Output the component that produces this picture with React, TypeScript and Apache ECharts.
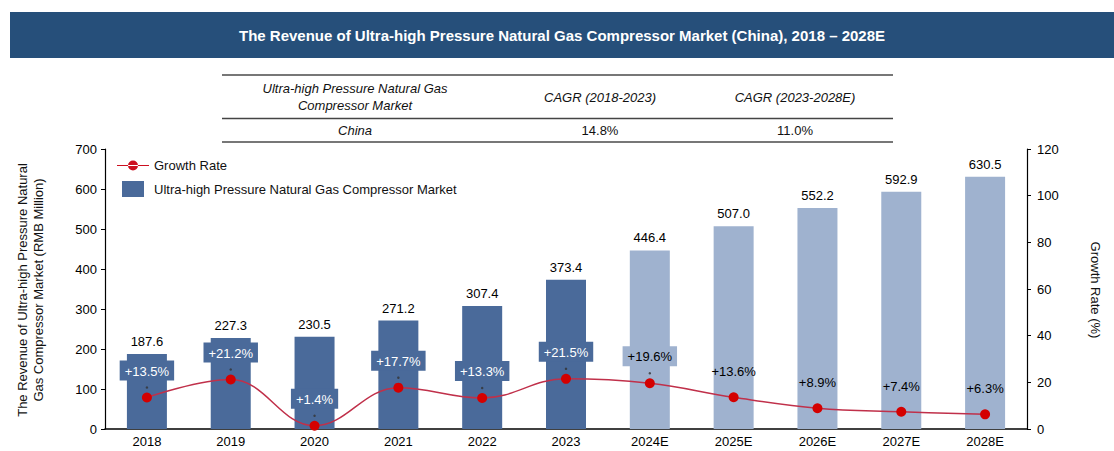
import React, { useEffect, useRef } from "react";
import * as echarts from "echarts";

const years = ["2018", "2019", "2020", "2021", "2022", "2023", "2024E", "2025E", "2026E", "2027E", "2028E"];
const revenue = [187.6, 227.3, 230.5, 271.2, 307.4, 373.4, 446.4, 507.0, 552.2, 592.9, 630.5];
const growth = [13.5, 21.2, 1.4, 17.7, 13.3, 21.5, 19.6, 13.6, 8.9, 7.4, 6.3];
const forecastStart = 6;
const leftTicks = { min: 0, max: 700, interval: 100 };
const rightTicks = { min: 0, max: 120, interval: 20 };
const tableHeader = ["Ultra-high Pressure Natural Gas\nCompressor Market", "CAGR (2018-2023)", "CAGR (2023-2028E)"];
const tableRow = ["China", "14.8%", "11.0%"];

const FONT = "'Liberation Sans', Arial, sans-serif";
const DARK = "#4a6a9a";
const LIGHT = "#9fb2cf";

export default function App() {
  const ref = useRef<HTMLDivElement>(null);
  useEffect(() => {
    const chart = echarts.init(ref.current!, null, { renderer: "svg" });
    const colX = [355, 600, 795];
    const option: any = {
      animation: false,
      textStyle: { fontFamily: FONT },
      grid: { left: 105, right: 87, top: 149, bottom: 22 },
      legend: {
        orient: "vertical",
        left: 112,
        top: 154,
        itemGap: 9,
        itemWidth: 32,
        itemHeight: 16,
        textStyle: { fontSize: 13, color: "#111", fontFamily: FONT },
        data: [
          { name: "Growth Rate", icon: "path://M0,7.4 L32,7.4 L32,8.6 L0,8.6 Z M11,8 A5,5 0 1 0 21,8 A5,5 0 1 0 11,8 Z", itemStyle: { color: "#cc1020" } },
          { name: "Ultra-high Pressure Natural Gas Compressor Market", icon: "path://M5,0 L27,0 L27,16 L5,16 Z", itemStyle: { color: DARK } },
        ],
      },
      xAxis: {
        type: "category",
        data: years,
        axisLine: { lineStyle: { color: "#000", width: 1.5 } },
        axisTick: { show: false },
        axisLabel: { color: "#000", fontSize: 13, fontFamily: FONT, margin: 6 },
      },
      yAxis: [
        {
          type: "value",
          ...leftTicks,
          splitLine: { show: false },
          axisLine: { show: true, lineStyle: { color: "#000", width: 1.2 } },
          axisTick: { show: true, length: 4, lineStyle: { color: "#000" } },
          axisLabel: { color: "#000", fontSize: 13, fontFamily: FONT, margin: 8 },
        },
        {
          type: "value",
          ...rightTicks,
          position: "right",
          splitLine: { show: false },
          axisLine: { show: true, lineStyle: { color: "#000", width: 1.2 } },
          axisTick: { show: true, length: 4, lineStyle: { color: "#000" } },
          axisLabel: { color: "#000", fontSize: 13, fontFamily: FONT, margin: 10 },
        },
      ],
      series: [
        {
          name: "Ultra-high Pressure Natural Gas Compressor Market",
          type: "bar",
          barWidth: 40,
          data: revenue.map((v, i) => ({ value: v, itemStyle: { color: i < forecastStart ? DARK : LIGHT } })),
          label: {
            show: true,
            position: "top",
            distance: 6,
            color: "#000",
            fontSize: 13,
            fontFamily: FONT,
            formatter: (p: any) => p.value.toFixed(1),
          },
        },
        {
          name: "Growth Rate",
          type: "line",
          yAxisIndex: 1,
          smooth: 0.4,
          symbol: "circle",
          symbolSize: 10,
          lineStyle: { color: "#c0304a", width: 1.5 },
          itemStyle: { color: "#d40000" },
          z: 5,
          data: growth.map((v, i) => {
            let lbl: any;
            if (i < forecastStart) {
              lbl = { backgroundColor: DARK, color: "#fff", padding: [4, 5, 3, 5] };
            } else if (i === forecastStart) {
              lbl = { backgroundColor: LIGHT, color: "#000", padding: [4, 5, 3, 5] };
            } else {
              lbl = { color: "#000", distance: 14 };
            }
            return { value: v, label: lbl };
          }),
          label: {
            show: true,
            position: "top",
            distance: 12,
            fontSize: 13,
            fontFamily: FONT,
            formatter: (p: any) => "+" + p.value.toFixed(1) + "%",
          },
        },
        {
          name: "leader",
          type: "scatter",
          yAxisIndex: 1,
          symbol: "circle",
          symbolSize: 2.5,
          symbolOffset: [0, -10],
          itemStyle: { color: "#333" },
          silent: true,
          z: 6,
          data: growth.slice(0, forecastStart + 1),
        },
      ],
      graphic: [
        { type: "rect", left: 10, top: 12, shape: { width: 1104, height: 46 }, style: { fill: "#264f7a" } },
        {
          type: "text",
          x: 562,
          y: 35,
          style: {
            text: "The Revenue of Ultra-high Pressure Natural Gas Compressor Market (China), 2018 – 2028E",
            fill: "#fff",
            font: "bold 15px " + FONT,
            align: "center",
            verticalAlign: "middle",
          },
        },
        { type: "line", shape: { x1: 222, y1: 75, x2: 893, y2: 75 }, style: { stroke: "#777", lineWidth: 2 } },
        { type: "line", shape: { x1: 222, y1: 118.5, x2: 893, y2: 118.5 }, style: { stroke: "#444", lineWidth: 1.5 } },
        { type: "line", shape: { x1: 222, y1: 142, x2: 893, y2: 142 }, style: { stroke: "#777", lineWidth: 2 } },
        ...tableHeader.map((t, i) => ({
          type: "text",
          x: colX[i],
          y: 97,
          style: { text: t, fill: "#111", font: "italic 13px " + FONT, align: "center", verticalAlign: "middle", lineHeight: 17 },
        })),
        ...tableRow.map((t, i) => ({
          type: "text",
          x: colX[i],
          y: 130,
          style: { text: t, fill: "#111", font: (i === 0 ? "italic " : "") + "13px " + FONT, align: "center", verticalAlign: "middle" },
        })),
        {
          type: "text",
          x: 30,
          y: 290,
          rotation: Math.PI / 2,
          style: {
            text: "The Revenue of Ultra-high Pressure Natural\nGas Compressor Market (RMB Million)",
            fill: "#111",
            font: "13px " + FONT,
            align: "center",
            verticalAlign: "middle",
            lineHeight: 16,
          },
        },
        {
          type: "text",
          x: 1095,
          y: 290,
          rotation: -Math.PI / 2,
          style: { text: "Growth Rate (%)", fill: "#111", font: "13px " + FONT, align: "center", verticalAlign: "middle" },
        },
      ],
    };
    chart.setOption(option);
    return () => chart.dispose();
  }, []);
  return <div ref={ref} style={{ width: 1114, height: 451, position: "absolute", left: 0, top: 0 }} />;
}
